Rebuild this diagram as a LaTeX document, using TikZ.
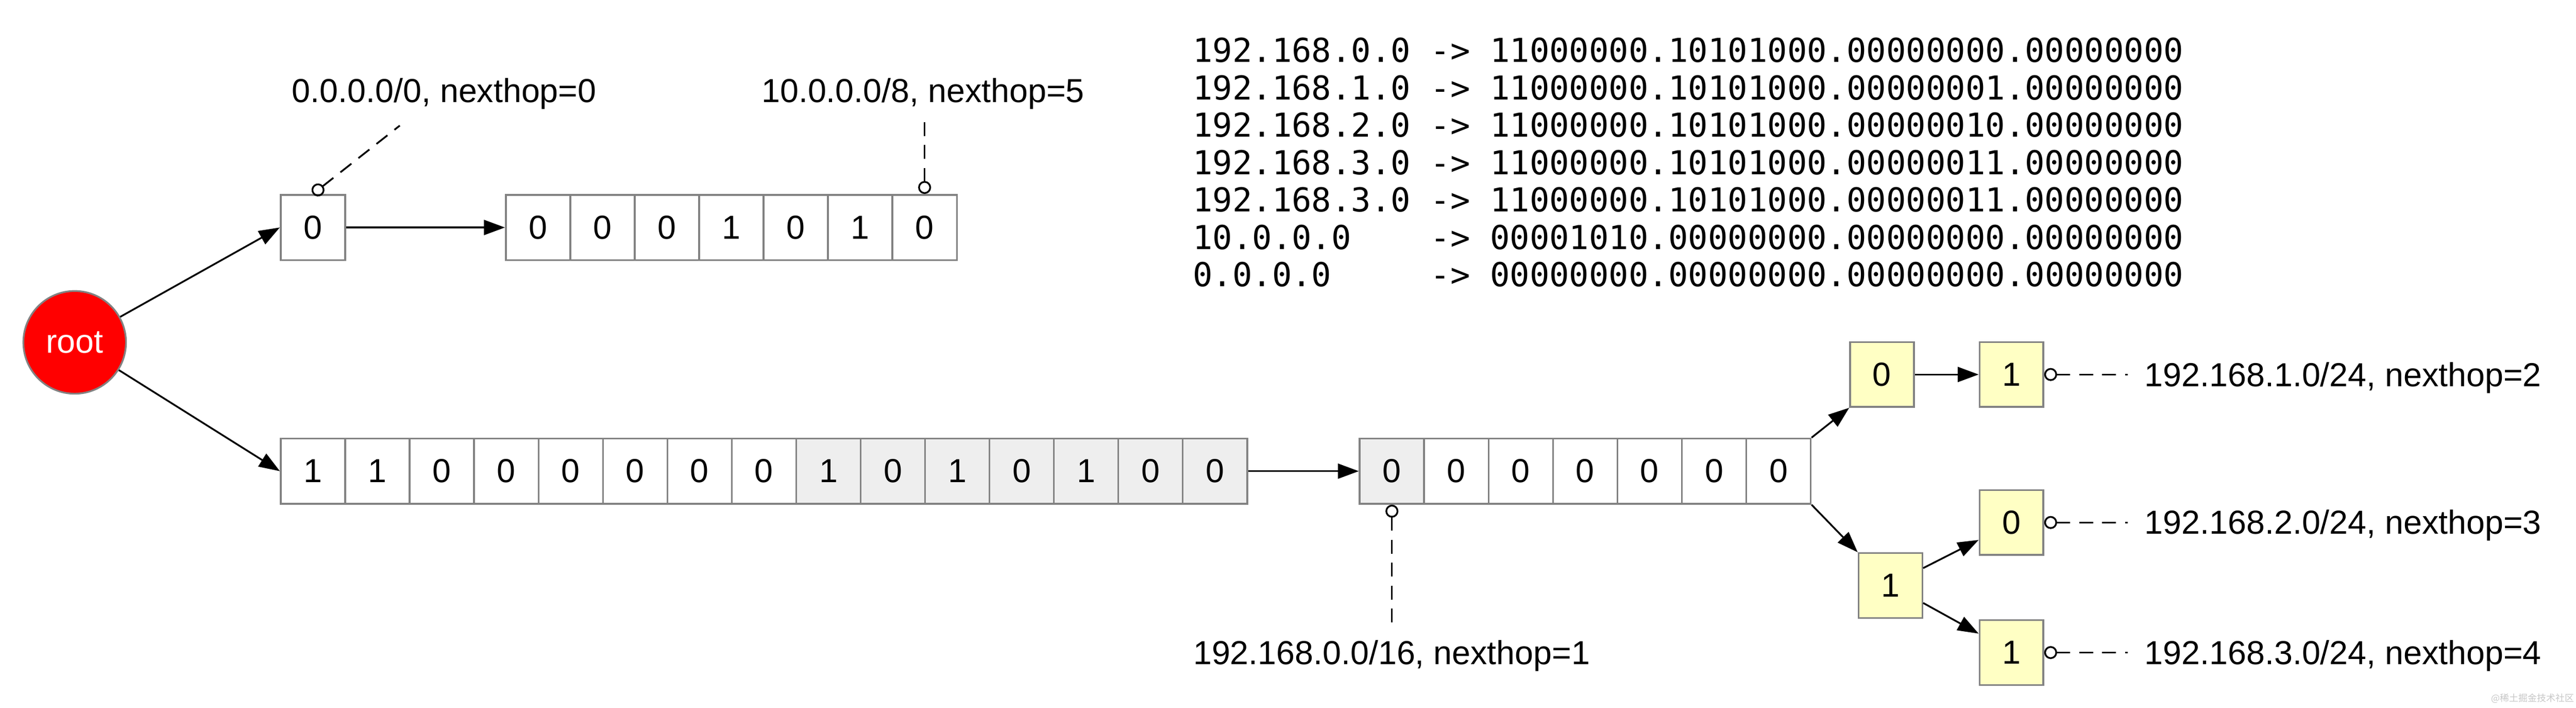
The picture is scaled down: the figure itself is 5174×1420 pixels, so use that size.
\documentclass[tikz,border=0pt]{standalone}
\usepackage{fontspec}
\setmainfont{Liberation Sans}
\newfontfamily\bitsfont{DejaVu Sans Mono}
\newfontfamily\cjkfont{Noto Sans CJK SC}
\usetikzlibrary{arrows.meta}
\definecolor{cell_line}{RGB}{130,130,130}
\definecolor{cell_grey}{RGB}{238,238,238}
\definecolor{trie_yellow}{RGB}{255,255,196}

\begin{document}
\begin{tikzpicture}[x=0.01cm, y=-0.01cm,
    every node/.style={font=\fontsize{19}{23}\selectfont},
    cell_node/.style={rectangle, draw=cell_line, fill=white, line width=1pt, minimum width=1.294cm, minimum height=1.31cm, inner sep=0pt},
    yellow_node/.style={cell_node, fill=trie_yellow, minimum width=1.28cm, minimum height=1.3cm},
    root_node/.style={circle, draw=cell_line, fill=red, line width=1pt, minimum size=2.06cm, inner sep=0pt, text=white},
    hop_label/.style={anchor=base west, inner sep=0pt},
    link/.style={-{Triangle[length=0.42cm,width=0.3cm]}, line width=1pt},
    hop_line/.style={{Circle[open,length=0.26cm,width=0.26cm]}-, dash pattern=on 0.28cm off 0.18cm, line width=1pt}]
    \useasboundingbox (0,0) rectangle (5174,1420);

    \node[root_node] (root) at (150,687) {root};

    % 0.0.0.0/0 and 10.0.0.0/8
    \node[cell_node] (s) at (628.5,456.5) {0};
    \foreach \b [count=\i] in {0,0,0,1,0,1,0}
        \node[cell_node] (t\i) at (951.3+129.4*\i,456.5) {\b};

    % 192.168.0.0/16
    \foreach \b [count=\i] in {1,1,0,0,0,0,0,0}
        \node[cell_node] (b\i) at (499.3+129.4*\i,945.5) {\b};
    \foreach \b [count=\i from 9] in {1,0,1,0,1,0,0}
        \node[cell_node, fill=cell_grey] (b\i) at (499.3+129.4*\i,945.5) {\b};
    \node[cell_node, fill=cell_grey] (m1) at (2795.7,945.5) {0};
    \foreach \b [count=\i from 2] in {0,0,0,0,0,0}
        \node[cell_node] (m\i) at (2666.3+129.4*\i,945.5) {\b};

    % /24 nodes
    \node[yellow_node] (y0a) at (3780,751.5) {0};
    \node[yellow_node] (y1a) at (4040,751.5) {1};
    \node[yellow_node] (y1c) at (3797,1175) {1};
    \node[yellow_node] (y0b) at (4040,1048.5) {0};
    \node[yellow_node] (y1b) at (4040,1309.5) {1};

    \node[hop_label] (l0) at (586,205) {0.0.0.0/0, nexthop=0};
    \node[hop_label] (l5) at (1529,205) {10.0.0.0/8, nexthop=5};
    \node[hop_label] (l1) at (2396,1333) {192.168.0.0/16, nexthop=1};
    \node[hop_label] (h2) at (4307,776) {192.168.1.0/24, nexthop=2};
    \node[hop_label] (h3) at (4307,1071) {192.168.2.0/24, nexthop=3};
    \node[hop_label] (h4) at (4307,1333) {192.168.3.0/24, nexthop=4};
    \coordinate (c0) at (803,252);

    \node[anchor=north west, inner sep=0pt, align=left, font=\bitsfont\fontsize{18.8}{21.34}\selectfont] (bits) at (2395,75) {%
        192.168.0.0 -> 11000000.10101000.00000000.00000000\\
        192.168.1.0 -> 11000000.10101000.00000001.00000000\\
        192.168.2.0 -> 11000000.10101000.00000010.00000000\\
        192.168.3.0 -> 11000000.10101000.00000011.00000000\\
        192.168.3.0 -> 11000000.10101000.00000011.00000000\\
        10.0.0.0\phantom{000} -> 00001010.00000000.00000000.00000000\\
        0.0.0.0\phantom{0000} -> 00000000.00000000.00000000.00000000};

    \node[text=black!22, font=\cjkfont\fontsize{5.3}{6}\selectfont] (mark) at (5087,1402) {@稀土掘金技术社区};

    \draw[link] (root) -- (s.west);
    \draw[link] (root) -- (b1.west);
    \draw[link] (s.east) -- (t1.west);
    \draw[link] (b15.east) -- (m1.west);
    \draw[link] (m7.north east) -- (y0a.south west);
    \draw[link] (m7.south east) -- (y1c.north west);
    \draw[link] (y0a.east) -- (y1a.west);
    \draw[link] (y1c.28) -- (y0b.208);
    \draw[link] (y1c.332) -- (y1b.150);

    \draw[hop_line] (s.north) -- (c0);
    \draw[hop_line, shorten >=0.22cm] (t7.north) -- (t7.north |- l5.south);
    \draw[hop_line, shorten >=0.3cm] (m1.south) -- (m1.south |- l1.north);
    \draw[hop_line, shorten >=0.33cm] (y1a.east) -- (y1a.east -| h2.west);
    \draw[hop_line, shorten >=0.33cm] (y0b.east) -- (y0b.east -| h3.west);
    \draw[hop_line, shorten >=0.33cm] (y1b.east) -- (y1b.east -| h4.west);
\end{tikzpicture}
\end{document}
